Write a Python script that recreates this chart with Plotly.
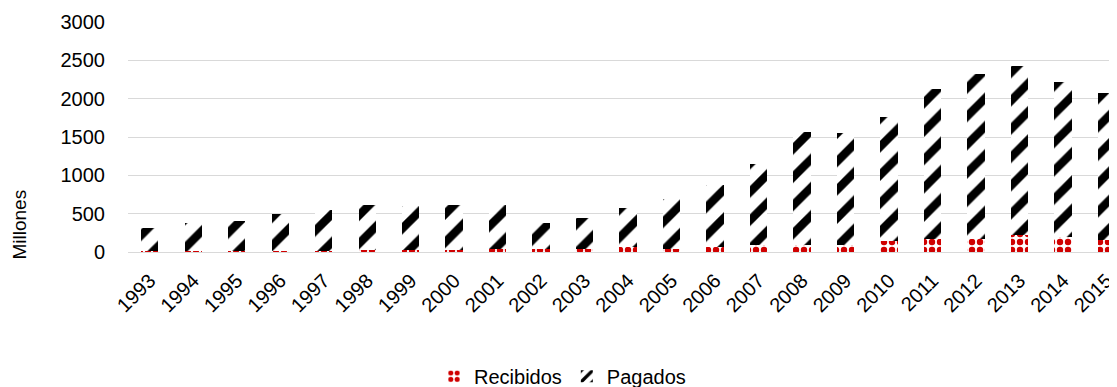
import plotly.graph_objects as go

years = [str(y) for y in range(1993, 2016)]
# Total bar heights (top of stack)
totales = [312, 383, 400, 491, 552, 608, 600, 608, 608, 383, 448, 578,
           695, 872, 1142, 1565, 1555, 1758, 2131, 2327, 2431, 2223, 2076]
recibidos = [8, 8, 8, 10, 12, 20, 20, 30, 43, 34, 43, 60,
             43, 69, 95, 95, 95, 138, 173, 173, 216, 190, 156]
pagados = [t - r for t, r in zip(totales, recibidos)]

FONT = "Liberation Sans, Arial, sans-serif"

# The page body adds an 8px offset; the figure is sized/positioned to compensate.
W, H = 1109, 379
L, T, PB = 120, 14, 244.5          # plot left, top, bottom in figure pixels
PH = PB - T

fig = go.Figure()
fig.add_trace(go.Bar(
    x=years, y=recibidos, name="Recibidos", width=0.4,
    marker=dict(color="white", line=dict(width=0),
                pattern=dict(shape=".", fgcolor="#d00000", bgcolor="white",
                             size=8, solidity=0.5, fillmode="replace")),
))
fig.add_trace(go.Bar(
    x=years, y=pagados, name="Pagados", width=0.4,
    marker=dict(color="white", line=dict(width=0),
                pattern=dict(shape="/", fgcolor="black", bgcolor="white",
                             size=20, solidity=0.42, fillmode="replace")),
))

fig.update_layout(
    barmode="stack",
    width=W, height=H,
    margin=dict(l=L, r=0, t=T, b=H - PB, autoexpand=False),
    paper_bgcolor="white", plot_bgcolor="white",
    font=dict(family=FONT, size=20, color="black"),
    showlegend=True,
    legend=dict(orientation="h", xref="container", yref="paper",
                x=0.5, xanchor="center", y=(PB - 369) / PH, yanchor="middle",
                font=dict(size=20), itemwidth=30, traceorder="normal"),
    xaxis=dict(type="category", range=[-0.5, 22.24], tickangle=-45,
               showgrid=False, showline=False, ticks="", automargin=False,
               ticklabelstandoff=12, tickfont=dict(size=20)),
    yaxis=dict(range=[0, 3000], tickvals=[0, 500, 1000, 1500, 2000, 2500, 3000],
               showgrid=True, gridcolor="#d9d9d9", gridwidth=1.3,
               zeroline=True, zerolinecolor="#d9d9d9", zerolinewidth=1.3,
               showline=False, ticks="", ticklabelstandoff=22, automargin=False,
               tickfont=dict(size=20)),
    annotations=[dict(text="Millones", xref="paper", yref="paper",
                      x=(12 - L) / (W - L), y=(PB - 217) / PH,
                      xanchor="center", yanchor="middle",
                      textangle=-90, showarrow=False,
                      font=dict(size=19))],
)

fig.write_html("out.html")
